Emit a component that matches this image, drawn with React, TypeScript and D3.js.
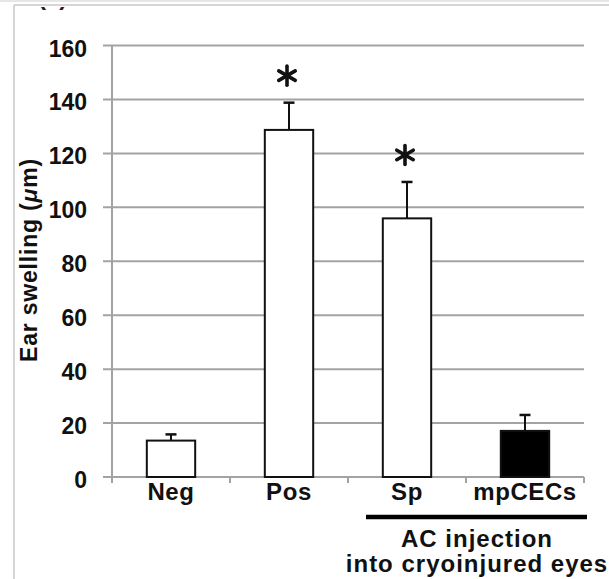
import React from "react";
import * as d3 from "d3";

const categories = ["Neg", "Pos", "Sp", "mpCECs"];
const means = [13.5, 128.7, 95.9, 17.1];
const errors = [2.3, 10.1, 13.5, 5.9];
const fills = ["#ffffff", "#ffffff", "#ffffff", "#000000"];
const significant = [false, true, true, false];
const yTicks = [0, 20, 40, 60, 80, 100, 120, 140, 160];
const groupLabel = ["AC injection", "into cryoinjured eyes"];

const W = 609;
const H = 579;
const FONT = "'Liberation Sans', Arial, Helvetica, sans-serif";

export default function App() {
  const x = d3.scaleBand<string>().domain(categories).range([112, 584]).paddingInner(0).paddingOuter(0);
  const y = d3.scaleLinear().domain([0, 160]).range([477, 45.5]);
  const barW = x.bandwidth() * 0.41;
  const grid = "#a3a3a3";

  const asterisk = (cx: number, cy: number, key: string) => {
    const r = 9.5;
    const angles = [90, 30, 150];
    return (
      <g key={key}>
        {angles.map((a) => {
          const rad = (a * Math.PI) / 180;
          const dx = Math.cos(rad) * r;
          const dy = Math.sin(rad) * r;
          return (
            <line key={a} x1={cx - dx} y1={cy - dy} x2={cx + dx} y2={cy + dy}
              stroke="#111" strokeWidth={3.6} strokeLinecap="round" />
          );
        })}
        <circle cx={cx} cy={cy} r={2.5} fill="#111" />
      </g>
    );
  };

  const bounds = [x.range()[0], ...categories.map((c) => (x(c) as number) + x.bandwidth())];

  return (
    <svg width={W} height={H} style={{ position: "fixed", left: 0, top: 0, background: "#fff" }}
      fontFamily={FONT}>
      <defs>
        <clipPath id="clipTop">
          <rect x={0} y={7} width={W} height={H} />
        </clipPath>
      </defs>
      <rect x={0} y={0} width={W} height={H} fill="#fff" />
      {/* frame */}
      <line x1={0} y1={1} x2={W} y2={1} stroke="#e6e6e6" strokeWidth={2} />
      <line x1={14} y1={5} x2={W} y2={5} stroke="#c8c8c8" strokeWidth={1.5} />
      <line x1={14} y1={5} x2={14} y2={H} stroke="#c8c8c8" strokeWidth={1.5} />
      <g clipPath="url(#clipTop)">
        <text x={38} y={5} fontSize={24} fontWeight="bold" fill="#222">(c)</text>
      </g>

      {/* gridlines and y ticks */}
      {yTicks.map((t) => (
        <g key={t}>
          <line x1={103} x2={584} y1={y(t)} y2={y(t)} stroke={grid} strokeWidth={2} />
          <text x={87} y={y(t) + 11} textAnchor="end" fontSize={23} fontWeight="bold" fill="#111">
            {t}
          </text>
        </g>
      ))}
      {/* y axis */}
      <line x1={112} x2={112} y1={y(160)} y2={y(0)} stroke={grid} strokeWidth={2} />
      {/* x ticks */}
      {bounds.map((b, i) => (
        <line key={i} x1={b} x2={b} y1={y(0)} y2={y(0) + 6} stroke={grid} strokeWidth={2} />
      ))}

      {/* bars */}
      {categories.map((c, i) => {
        const cx = (x(c) as number) + x.bandwidth() / 2;
        const top = y(means[i]);
        const eTop = y(means[i] + errors[i]);
        return (
          <g key={c}>
            <line x1={cx} x2={cx} y1={top} y2={eTop} stroke="#111" strokeWidth={2} />
            <line x1={cx - 5.5} x2={cx + 5.5} y1={eTop} y2={eTop} stroke="#111" strokeWidth={2.5} />
            <rect x={cx - barW / 2} y={top} width={barW} height={y(0) - top}
              fill={fills[i]} stroke="#111" strokeWidth={2} />
            {significant[i] && asterisk(cx - 2, eTop - 27, "a" + i)}
            <text x={cx} y={500} textAnchor="middle" fontSize={24} fontWeight="bold"
              letterSpacing={0.6} fill="#111">{c}</text>
          </g>
        );
      })}

      {/* group bar and label */}
      <line x1={366} x2={587} y1={517} y2={517} stroke="#000" strokeWidth={4.5} />
      <text x={477} y={547} textAnchor="middle" fontSize={24} fontWeight="bold" letterSpacing={1} fill="#111">
        {groupLabel[0]}
      </text>
      <text x={477} y={572} textAnchor="middle" fontSize={24} fontWeight="bold" letterSpacing={1} fill="#111">
        {groupLabel[1]}
      </text>

      {/* y label */}
      <text transform="translate(37,260) rotate(-90)" textAnchor="middle" fontSize={23}
        fontWeight="bold" letterSpacing={0.8} fill="#111">
        Ear swelling (<tspan fontStyle="italic">μ</tspan>m)
      </text>
    </svg>
  );
}
